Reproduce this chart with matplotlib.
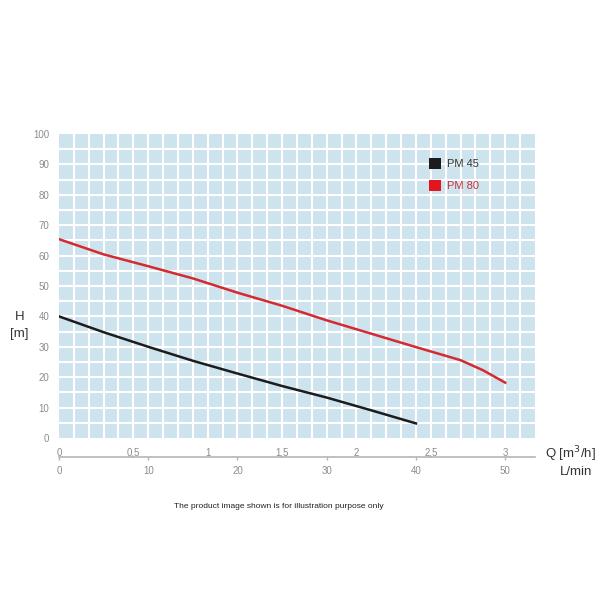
import matplotlib.pyplot as plt
import numpy as np
from matplotlib.patches import Patch

plt.rcParams['font.family'] = ['Liberation Sans', 'DejaVu Sans']

# flow in L/min and head in m
pm45_q = [0, 5, 10, 15, 20, 25, 30, 35, 40]
pm45_h = [40, 34.8, 30, 25.4, 21.2, 17.1, 13.3, 9.1, 4.8]

pm80_q = [0, 5, 10, 15, 20, 25, 30, 35, 40, 45, 47.5, 50]
pm80_h = [65.4, 60.4, 56.5, 52.5, 47.8, 43.5, 38.7, 34.3, 29.9, 25.6, 22.3, 18.2]

# axis labels
m3h_ticks = [0, 0.5, 1, 1.5, 2, 2.5, 3]
m3h_labels = ['0', '0,5', '1', '1,5', '2', '2,5', '3']
lmin_ticks = [0, 10, 20, 30, 40, 50]
h_ticks = list(range(0, 101, 10))

bg = '#cde3ee'
grey = '#8c8c8c'

fig = plt.figure(figsize=(6, 6), dpi=100)
ax = fig.add_axes([0.0983, 0.27, 0.7933, 0.5067])
ax.set_facecolor(bg)

xmax = 3.2 * 1000 / 60
ax.set_xlim(0, xmax)
ax.set_ylim(0, 100)

# white grid, every 0.1 m3/h and every 5 m
ax.vlines(np.arange(1, 32) * 100 / 60, 0, 100, color='white', lw=1.5, zorder=1)
ax.hlines(np.arange(5, 100, 5), 0, xmax, color='white', lw=1.5, zorder=1)

ax.plot(pm45_q, pm45_h, color='#1c1c1c', lw=1.8, zorder=3)
ax.plot(pm80_q, pm80_h, color='#d42a30', lw=1.8, zorder=3)

for s in ax.spines.values():
    s.set_visible(False)

ax.set_yticks(h_ticks)
ax.tick_params(axis='y', length=0, pad=7, labelsize=7, labelcolor=grey)
ax.set_xticks([v * 1000 / 60 for v in m3h_ticks])
ax.set_xticklabels(m3h_labels)
ax.tick_params(axis='x', length=0, pad=7, labelsize=7, labelcolor=grey)

# second scale in L/min below
sec = ax.secondary_xaxis(-0.0625)
sec.set_xticks(lmin_ticks)
sec.spines['bottom'].set_color('#b5b5b5')
sec.spines['bottom'].set_linewidth(1.2)
sec.tick_params(axis='x', length=2.5, width=1, color='#b5b5b5', pad=4,
                labelsize=7, labelcolor=grey)

fig.text(19.5 / 600, 1 - 317 / 600, 'H', fontsize=9.5, color='#333333',
         ha='center', va='center')
fig.text(19.5 / 600, 1 - 334 / 600, '[m]', fontsize=9.5, color='#333333',
         ha='center', va='center')
fig.text(545 / 600, 1 - 454 / 600, 'Q [m$^3$/h]', fontsize=9.5, color='#333333',
         ha='left', va='center')
fig.text(592 / 600, 1 - 472 / 600, 'L/min', fontsize=9.5, color='#333333',
         ha='right', va='center')

handles = [Patch(facecolor='#1c1c1c', label='PM 45'),
           Patch(facecolor='#e3161d', label='PM 80')]
leg = ax.legend(handles=handles, loc='upper left', bbox_to_anchor=(0.765, 0.94),
                frameon=False, fontsize=8, handlelength=1.15, handleheight=1.15,
                handletextpad=0.5, labelspacing=0.95, borderpad=0)
leg.get_texts()[0].set_color('#333333')
leg.get_texts()[1].set_color('#c8323a')

fig.text(279 / 600, 1 - 507 / 600,
         'The product image shown is for illustration purpose only',
         fontsize=6, color='#222222', ha='center', va='center')

fig.savefig('out.png', dpi=100, facecolor='white')
